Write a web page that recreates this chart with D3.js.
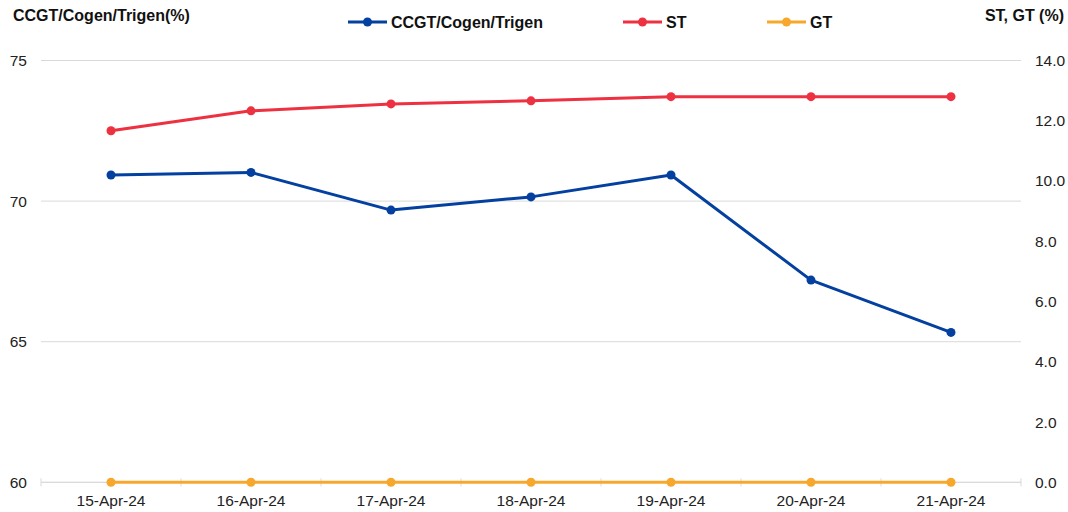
<!DOCTYPE html>
<html>
<head>
<meta charset="utf-8">
<script src="https://cdn.jsdelivr.net/npm/d3@7"></script>
<style>
  body { margin: 0; background: #fff; }
  text { font-family: "Liberation Sans", Arial, sans-serif; }
</style>
</head>
<body>
<svg width="1068" height="512"></svg>
<script>
var dates = ["15-Apr-24", "16-Apr-24", "17-Apr-24", "18-Apr-24", "19-Apr-24", "20-Apr-24", "21-Apr-24"];
var ccgt = [70.93, 71.02, 69.68, 70.15, 70.93, 67.19, 65.33];
var st = [11.67, 12.33, 12.56, 12.66, 12.80, 12.80, 12.80];
var gt = [0, 0, 0, 0, 0, 0, 0];
var leftTicks = [60, 65, 70, 75];
var rightTicks = [0, 2, 4, 6, 8, 10, 12, 14];

var svg = d3.select("svg");
var margin = { top: 60.5, right: 47, bottom: 30, left: 41 };
var width = +svg.attr("width") - margin.left - margin.right;
var height = 482.3 - margin.top;
var g = svg.append("g").attr("transform", "translate(" + margin.left + ", " + margin.top + ")");

var x = d3.scaleBand().domain(dates).range([0, width]);
var yL = d3.scaleLinear().domain([60, 75]).range([height, 0]);
var yR = d3.scaleLinear().domain([0, 14]).range([height, 0]);

// gridlines
g.append("g").selectAll("line").data(leftTicks).enter().append("line")
  .attr("x1", 0).attr("x2", width)
  .attr("y1", function (d) { return yL(d); }).attr("y2", function (d) { return yL(d); })
  .attr("stroke", "#d9d9d9").attr("stroke-width", 1);

// left axis labels
g.append("g").call(d3.axisLeft(yL).tickValues(leftTicks).tickSize(0).tickPadding(14))
  .call(function (a) { a.select(".domain").remove(); })
  .selectAll("text").attr("font-size", 15.5).attr("fill", "#222").style("font-family", "Liberation Sans, Arial, sans-serif");

// right axis labels
g.append("g").attr("transform", "translate(" + width + ",0)")
  .call(d3.axisRight(yR).tickValues(rightTicks).tickFormat(d3.format(".1f")).tickSize(0).tickPadding(14))
  .call(function (a) { a.select(".domain").remove(); })
  .selectAll("text").attr("font-size", 15.5).attr("fill", "#222").style("font-family", "Liberation Sans, Arial, sans-serif");

// bottom axis
var bottom = g.append("g").attr("transform", "translate(0," + height + ")");
bottom.append("line").attr("x1", 0).attr("x2", width).attr("stroke", "#d9d9d9");
bottom.selectAll(".tk").data(d3.range(dates.length + 1)).enter().append("line")
  .attr("x1", function (i) { return i * x.step(); }).attr("x2", function (i) { return i * x.step(); })
  .attr("y1", -4).attr("y2", 4).attr("stroke", "#d9d9d9");
bottom.selectAll(".lbl").data(dates).enter().append("text")
  .attr("x", function (d) { return x(d) + x.bandwidth() / 2; })
  .attr("y", 24).attr("text-anchor", "middle").attr("font-size", 15.5).attr("fill", "#222")
  .text(function (d) { return d; });

var series = [
  { name: "CCGT/Cogen/Trigen", values: ccgt, y: yL, color: "#0340a0" },
  { name: "ST", values: st, y: yR, color: "#ee3140" },
  { name: "GT", values: gt, y: yR, color: "#f7a82c" }
];

// draw GT first, so it sits under nothing else
series.slice().reverse().forEach(function (s) {
  var line = d3.line()
    .x(function (d, i) { return x(dates[i]) + x.bandwidth() / 2; })
    .y(function (d) { return s.y(d); });
  g.append("path").datum(s.values).attr("fill", "none").attr("stroke", s.color)
    .attr("stroke-width", 3).attr("stroke-linejoin", "round").attr("d", line);
  g.append("g").selectAll("circle").data(s.values).enter().append("circle")
    .attr("cx", function (d, i) { return x(dates[i]) + x.bandwidth() / 2; })
    .attr("cy", function (d) { return s.y(d); })
    .attr("r", 4.5).attr("fill", s.color);
});

// axis titles
svg.append("text").attr("x", 13).attr("y", 21).attr("font-size", 16).attr("font-weight", "bold")
  .attr("fill", "#111").text("CCGT/Cogen/Trigen(%)");
svg.append("text").attr("x", 1064).attr("y", 21).attr("text-anchor", "end").attr("font-size", 16)
  .attr("font-weight", "bold").attr("fill", "#111").text("ST, GT (%)");

// legend
var legendX = [348, 623, 767];
var leg = svg.append("g").selectAll("g").data(series).enter().append("g")
  .attr("transform", function (d, i) { return "translate(" + legendX[i] + ",22)"; });
leg.append("line").attr("x1", 0).attr("x2", 39).attr("stroke", function (d) { return d.color; }).attr("stroke-width", 3);
leg.append("circle").attr("cx", 19.5).attr("r", 4.5).attr("fill", function (d) { return d.color; });
leg.append("text").attr("x", 43).attr("y", 6).attr("font-size", 16).attr("font-weight", "bold")
  .attr("fill", "#111").text(function (d) { return d.name; });
</script>
</body>
</html>
